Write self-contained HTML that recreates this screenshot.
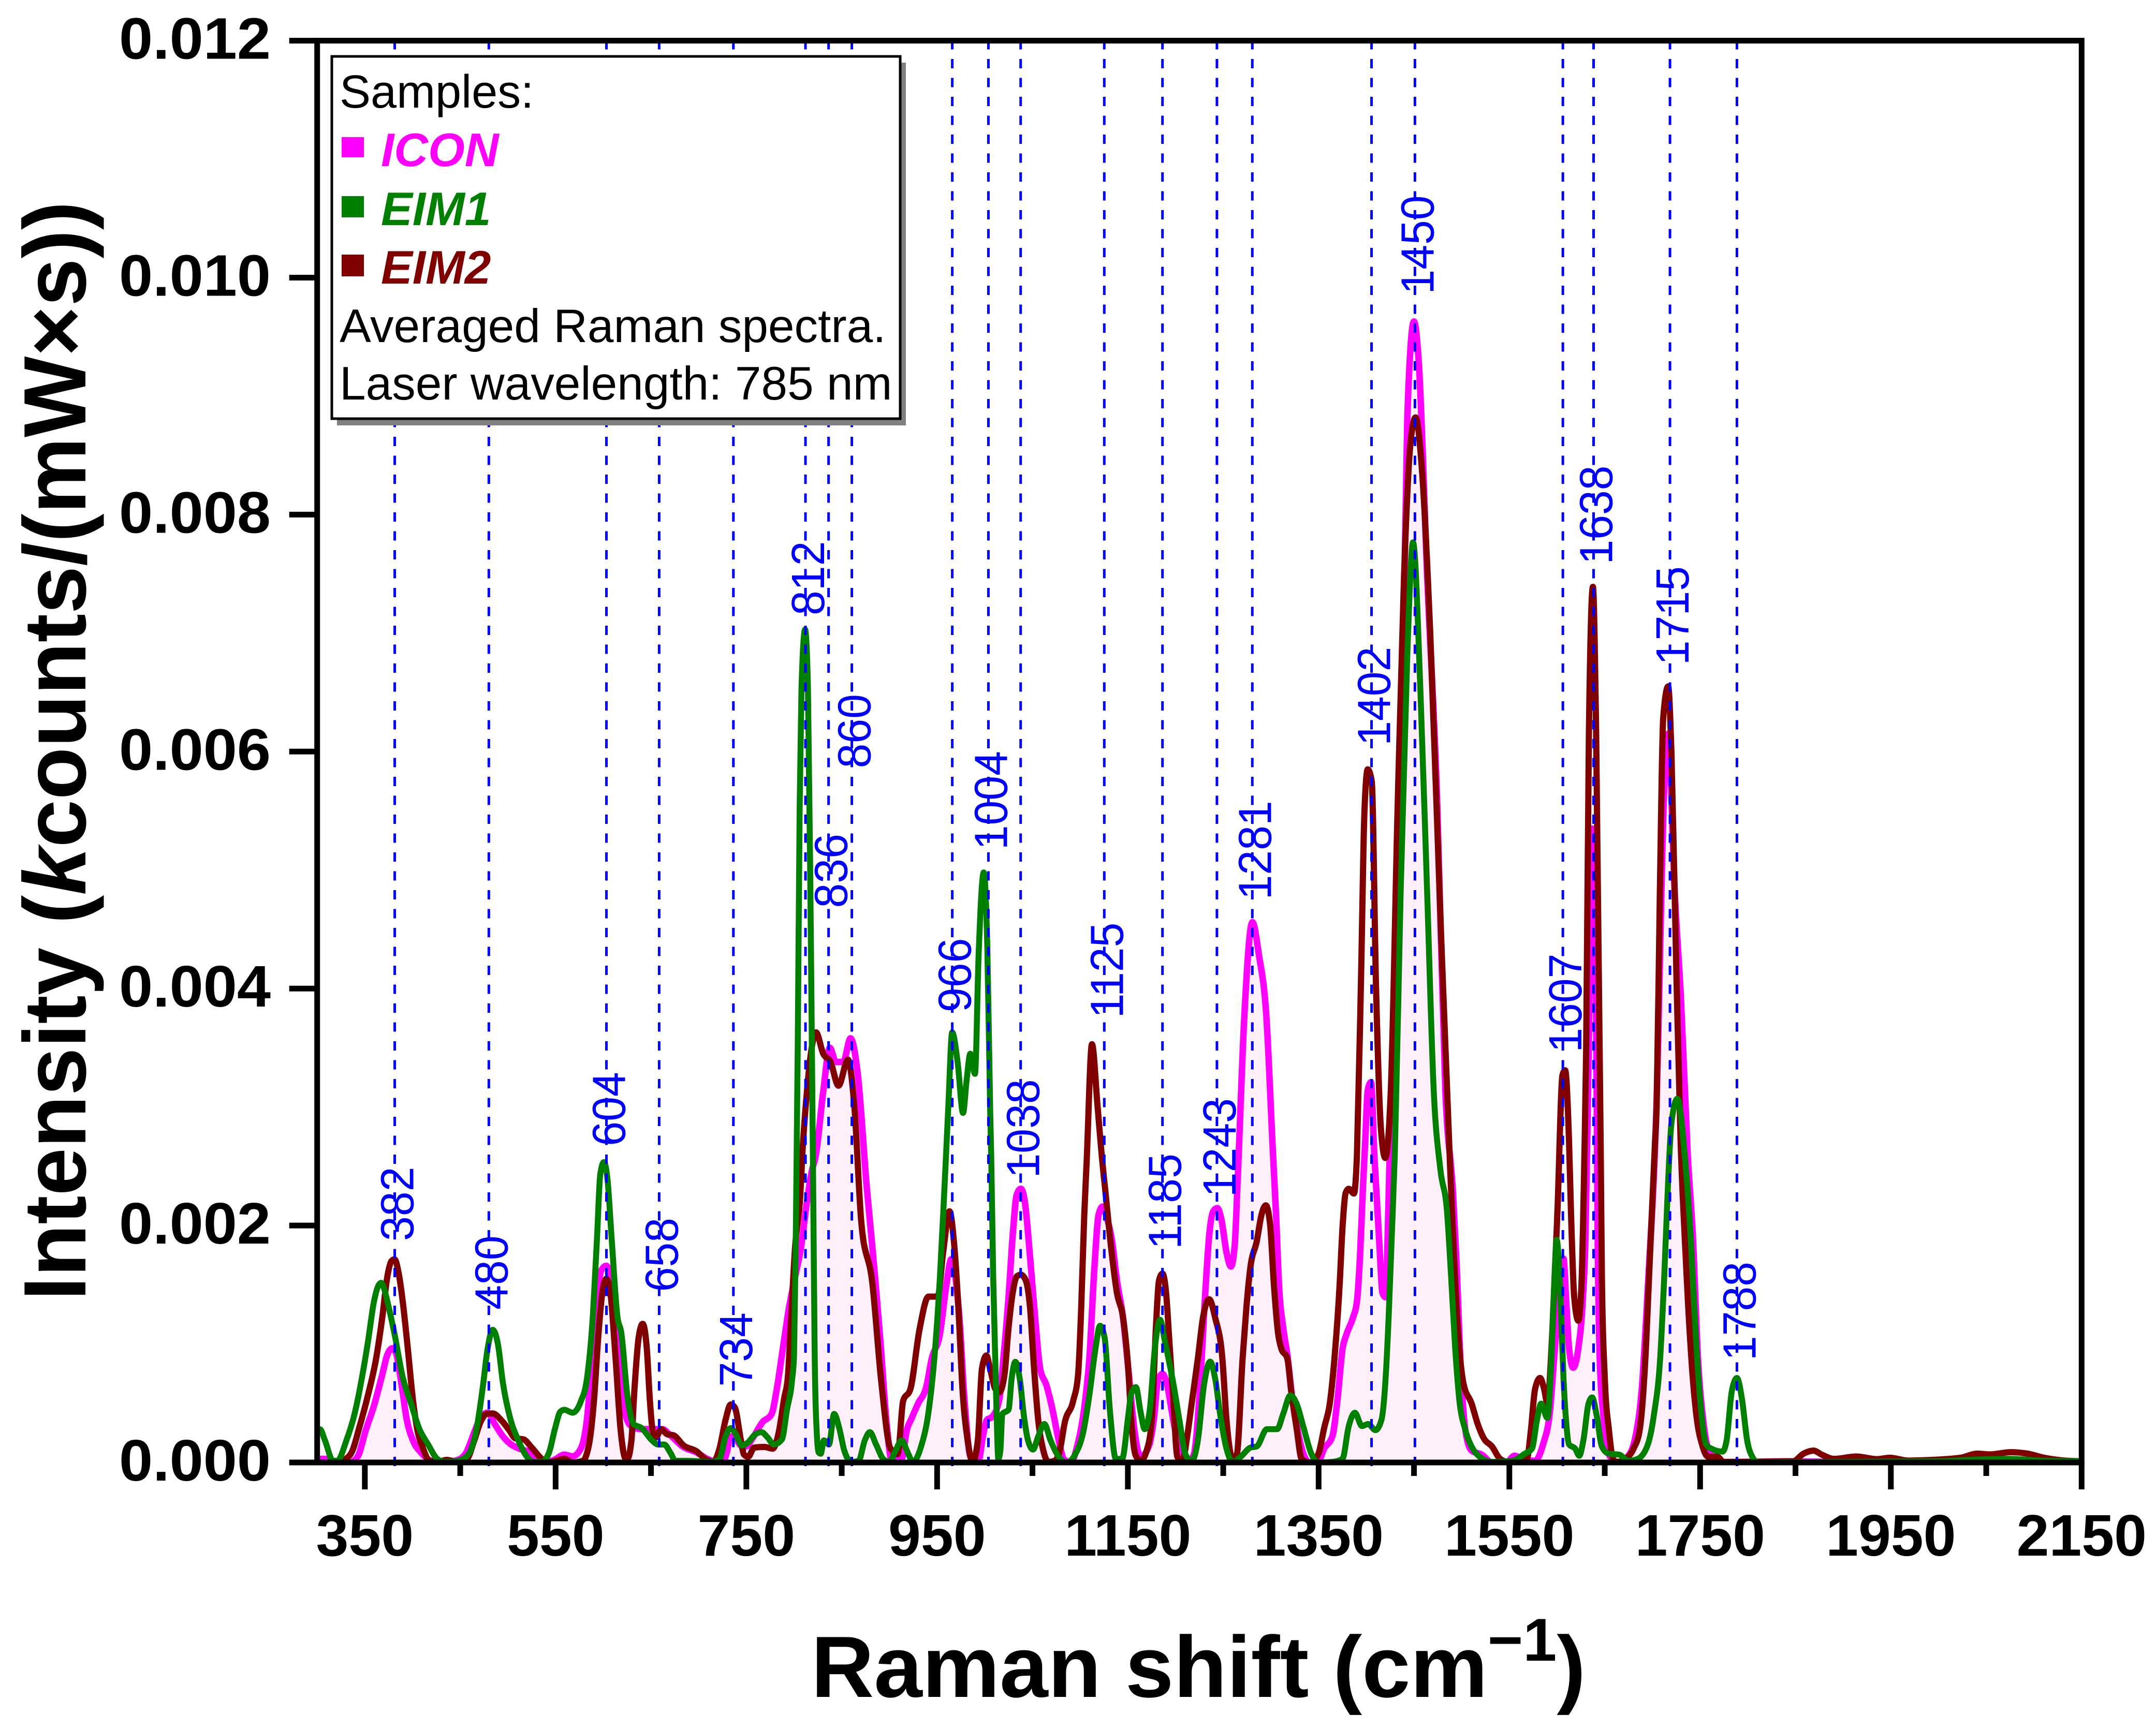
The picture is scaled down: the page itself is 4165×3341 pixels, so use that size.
<!DOCTYPE html>
<html lang="en">
<head>
<meta charset="utf-8">
<title>Averaged Raman spectra</title>
<style>
html,body{margin:0;padding:0;background:#fff;width:4165px;height:3341px;overflow:hidden}
svg{display:block}
text{font-family:"Liberation Sans",sans-serif}
</style>
</head>
<body>
<svg id="chart" xmlns="http://www.w3.org/2000/svg" width="4165" height="3341" viewBox="0 0 4165 3341">
  <defs><clipPath id="plot-clip"><rect x="612.7" y="78.6" width="3408.6" height="2747.4"/></clipPath></defs>
  <rect x="0" y="0" width="4165" height="3341" fill="#fff"/>
  <g id="series-layer" clip-path="url(#plot-clip)"></g>
  <g id="peak-layer"></g>
  <g id="axis-layer"></g>
  <text transform="translate(165,2513) rotate(-90) scale(.97,1)" font-size="171" font-weight="bold" fill="#000">Intensity (<tspan font-style="italic">k</tspan>counts/(mW×s))</text>
  <text x="1567" y="3279" font-size="168" font-weight="bold" fill="#000">Raman shift (cm<tspan font-size="117" dy="-70">−1</tspan><tspan dy="70">)</tspan></text>
  <g>
    <rect x="651" y="121" width="1099" height="701" fill="#808080"/>
    <rect x="641" y="109" width="1098" height="700" fill="#fff" stroke="#000" stroke-width="5"/>
    <text x="656" y="208" font-size="90" fill="#000">Samples:</text>
    <rect x="660" y="265" width="43" height="39" fill="#ff00ff"/>
    <text x="736" y="321" font-size="91" font-weight="bold" font-style="italic" fill="#ff00ff">ICON</text>
    <rect x="660" y="379" width="43" height="41" fill="#008000"/>
    <text x="736" y="435" font-size="91" font-weight="bold" font-style="italic" fill="#008000">EIM1</text>
    <rect x="660" y="492" width="43" height="42" fill="#800000"/>
    <text x="736" y="548" font-size="91" font-weight="bold" font-style="italic" fill="#800000">EIM2</text>
    <text x="656" y="661" font-size="91" fill="#000">Averaged Raman spectra.</text>
    <text x="656" y="772" font-size="91" fill="#000">Laser wavelength: 785 nm</text>
  </g>
</svg>
<script>
// Values. Each pair is [Raman shift in cm-1, intensity x 10^-3].
const iconSeries = [[300,.03],[311.3,.03],[314.6,0],[333.9,0],[342.5,.05],[351,.273],[359.6,.48],[368.2,.74],[373.6,.91],[379,.964],[383.2,.91],[388.6,.65],[394,.36],[400.4,.187],[409,.083],[419.7,.014],[430,0],[447.6,.022],[456.2,.083],[464.8,.256],[471.2,.376],[478.7,.42],[486.2,.325],[494.8,.22],[503.4,.152],[512,.117],[520.6,.092],[529.2,.03],[535.6,0],[548.5,.022],[559.2,.066],[567.8,.052],[576.4,.117],[582.8,.36],[588.2,.877],[592.5,1.31],[597.8,1.62],[603.2,1.66],[607.5,1.57],[612.9,1.22],[618.2,.705],[624.2,.376],[629.5,.307],[640.3,.281],[661.7,.281],[670.3,.23],[683.2,.135],[698.2,.083],[709,.03],[724,0],[730.4,.117],[732.5,.22],[737.9,.21],[744.3,.143],[749.7,.135],[756.1,.2],[766.9,.34],[776.5,.41],[781.9,.62],[788.3,.964],[794.8,1.31],[801.2,1.57],[807.6,1.83],[813,2.17],[818.4,2.45],[823,2.6],[830.6,3.13],[837.5,3.5],[844,3.38],[851.6,3.38],[859.2,3.58],[866.8,3.28],[876.3,2.32],[880.6,1.95],[884.9,1.57],[890.3,1.05],[897.8,.27],[902,.03],[912.8,.03],[918.2,.273],[923.5,.376],[930,.497],[938.6,.636],[944.4,.877],[953,1.085],[959.4,1.48],[964.8,1.715],[969.1,1.57],[973.4,1.22],[978.7,.53],[985.2,.05],[993.8,.03],[998,.22],[1002.3,.36],[1007.7,.385],[1015.2,.53],[1019.5,.877],[1024.9,1.395],[1029.2,1.91],[1033.5,2.26],[1037.8,2.31],[1042,2.2],[1047.4,1.74],[1052.8,1.22],[1058.1,.79],[1064.6,.653],[1071,.446],[1077.5,.187],[1082.8,.03],[1090.3,0],[1096.8,.135],[1104.3,.463],[1109.6,.877],[1115,1.654],[1119.3,2.09],[1123.6,2.16],[1127.9,2.07],[1133.2,1.88],[1138.6,1.534],[1145,1.22],[1151.5,.705],[1156.9,.273],[1163.3,.048],[1171.9,.135],[1177.2,.36],[1181.5,.687],[1186.3,.748],[1191.2,.653],[1197.6,.36],[1205.1,.083],[1212.7,0],[1219.1,.066],[1225.5,.618],[1230.9,1.395],[1235.2,1.91],[1239.5,2.12],[1243.8,2.147],[1248.1,2.05],[1253.4,1.775],[1258.1,1.654],[1262,1.83],[1265.2,2.4],[1272.2,3.78],[1280.6,4.56],[1287.5,4.28],[1295.1,3.78],[1302.2,2.6],[1305.4,2.09],[1308.6,1.48],[1312.9,1.136],[1317.2,.91],[1322.6,.53],[1328,.273],[1334.4,.066],[1340.8,0],[1349.4,.005],[1355.8,.117],[1364.4,.22],[1369.8,.53],[1375.2,.964],[1379.4,1.085],[1385.9,1.22],[1390.2,1.36],[1393.4,1.74],[1396.6,2.34],[1398.8,2.7],[1401.5,3.14],[1405,3.21],[1408.4,2.6],[1413.8,1.83],[1417,1.43],[1420.2,1.395],[1422.4,1.91],[1424.5,2.6],[1430,3.6],[1436,5.5],[1443,8.82],[1450,9.63],[1455,9.29],[1463.8,7.49],[1474.2,5.61],[1482.9,3.14],[1491,2.26],[1494.3,1.74],[1499.6,.705],[1503.9,.273],[1510.4,.1],[1521.1,.066],[1531.8,0],[1546.8,0],[1555.4,.057],[1564,.03],[1576.9,.014],[1585.6,.16],[1592.1,.4],[1598.6,1.05],[1606.8,1.72],[1609.4,1.395],[1612.6,.964],[1616.9,.8],[1622.3,.964],[1626.5,1.31],[1629.8,1.91],[1633,3.4],[1636.9,5.35],[1640.3,4.5],[1642.6,1.91],[1644.8,.877],[1649,.36],[1654.4,.066],[1663,0],[1673.8,.048],[1682.3,.22],[1688.8,.618],[1695.2,1.48],[1703.8,2.9],[1713,5.81],[1716.5,6.15],[1723.4,4.81],[1730,3.9],[1737,2.6],[1742.4,1.91],[1747.8,.877],[1753.2,.36],[1759.6,.1],[1766,.066],[1775,0],[1840,.01],[1900,.005],[2000,.01],[2060,.03],[2100,.02],[2150,.005]];
const eim1Series = [[300,.26],[303,.28],[308,.19],[316.7,.014],[321,.014],[330.7,.187],[339.2,.41],[346.7,.705],[353.2,1.015],[359.6,1.36],[363.5,1.48],[367.1,1.516],[370.5,1.46],[373.6,1.36],[381.1,1.085],[389.7,.72],[398.3,.5],[406.8,.29],[416.5,.15],[426,.03],[434.7,.005],[447.6,.014],[458.3,.066],[466.9,.273],[473.4,.62],[478.7,.96],[484.1,1.12],[489.5,1],[494.8,.67],[502.3,.376],[510.9,.187],[518.4,.066],[527,.005],[535.6,.005],[543.1,.083],[549.5,.29],[554.9,.428],[559.2,.445],[567.8,.42],[576.4,.515],[582.8,.705],[589.2,1.257],[593.5,1.91],[596.8,2.43],[600.6,2.535],[604.3,2.4],[608.6,1.91],[615,1.22],[618.8,1.1],[625.2,.566],[631.7,.325],[640.3,.29],[651,.187],[657.4,.152],[663.9,.152],[670.3,.083],[675.7,.014],[687.5,.014],[713.2,.005],[721.8,.03],[728.2,.22],[733.6,.29],[739,.238],[745.4,.143],[751.9,.17],[758.3,.23],[765.8,.256],[772.2,.212],[778.7,.152],[787.3,.195],[792.6,.446],[798,.7],[800,.9],[802,2.02],[803.9,3.53],[805.9,5.53],[807.8,6.53],[811.6,7.03],[814.6,6.53],[817.5,4.53],[820.2,2.2],[821.6,.95],[823.7,.27],[825.9,.083],[828,.074],[831.3,.187],[836.6,.152],[842,.41],[847.4,.29],[852.7,.1],[860.2,.005],[867.7,.014],[874.2,.187],[879.5,.256],[886,.152],[893.5,.03],[899.9,.005],[906.4,.1],[912.8,.187],[919.2,.083],[924.6,.005],[933.2,.135],[940.7,.41],[947.1,.877],[953,1.57],[957,2.2],[959.4,2.6],[961.9,3.03],[965.8,3.63],[971.5,3.38],[977.2,2.95],[981,3.23],[984.8,3.45],[989.7,3.28],[993.5,4.28],[998.9,4.98],[1002.7,4.33],[1005.7,2.95],[1006.7,2.6],[1008.8,1.57],[1012,.53],[1014.2,.03],[1016.3,.1],[1018.4,.41],[1024.9,.445],[1028.1,.705],[1032,.85],[1036.7,.705],[1041,.394],[1045.3,.187],[1050.6,.109],[1056,.22],[1062.4,.325],[1068.9,.187],[1077.5,.048],[1086,0],[1094.6,.066],[1103.2,.256],[1109.6,.566],[1116.1,.964],[1120.8,1.154],[1125.7,1.05],[1131.1,.446],[1137.5,.03],[1144,.03],[1150.4,.394],[1153.6,.584],[1158.4,.636],[1163.3,.428],[1167.6,.281],[1173,.446],[1178.3,.964],[1183.7,1.205],[1189,1.015],[1197.6,.67],[1204,.36],[1210.5,.066],[1217,.014],[1223.4,.187],[1229.8,.653],[1236.3,.851],[1241.6,.705],[1247,.394],[1253.4,.117],[1259.9,.005],[1268.5,.05],[1278.6,.126],[1285,.135],[1295.8,.281],[1306.5,.281],[1312.9,.411],[1320.4,.566],[1326.9,.497],[1334.4,.29],[1341.9,.083],[1349.4,0],[1364.4,.005],[1375,.03],[1381.6,.307],[1388,.42],[1395.5,.307],[1402,.325],[1409.5,.273],[1415.9,.36],[1420.2,.705],[1423.4,1.22],[1426.7,1.91],[1429.9,2.6],[1436,4.81],[1443,6.82],[1449,7.766],[1456.9,6.48],[1463.8,4.81],[1470.7,3.14],[1477.7,2.47],[1484.6,2.12],[1488.9,1.57],[1493.2,.964],[1497.5,.53],[1503.9,.273],[1510.4,.135],[1518.9,.048],[1531.8,.005],[1553.3,.014],[1566.1,.074],[1573.7,.117],[1579,.36],[1583.3,.497],[1589.8,.376],[1594,.877],[1597.3,1.57],[1599.6,1.88],[1604,1.31],[1606.8,.705],[1609.4,.36],[1612.6,.152],[1619,.117],[1623.3,.057],[1627.6,.187],[1633,.497],[1636.8,.549],[1641.6,.394],[1647,.135],[1654.4,.074],[1665.2,.066],[1674.8,.014],[1684.5,.03],[1695.2,.152],[1701.7,.41],[1708.1,.877],[1712.4,1.57],[1716.6,2.4],[1720,2.87],[1726.2,3.07],[1733.8,2.6],[1740.5,1.85],[1745.6,1.05],[1751,.446],[1756.4,.152],[1761.7,.117],[1773.5,.092],[1777.8,.187],[1783.2,.6],[1788.6,.713],[1794,.53],[1799.3,.187],[1804.7,.048],[1811,0],[1900,.005],[2000,.01],[2040,.025],[2075,.03],[2110,.015],[2150,.01]];
const eim2Series = [[325.3,.005],[336,.083],[344.6,.307],[353.2,.566],[361.8,.877],[368.2,1.22],[373.6,1.57],[377.9,1.7],[381.1,1.715],[385.4,1.6],[389.7,1.36],[395,.964],[400.4,.53],[404.7,.29],[411.1,.117],[417.6,.014],[426,.005],[435.8,.022],[449.8,0],[457.3,.03],[464.8,.187],[471.2,.34],[477.7,.41],[484.1,.414],[492.7,.36],[501.3,.273],[507.7,.204],[516.3,.195],[524.9,.126],[535.6,.03],[542,0],[559.2,.03],[567.8,0],[578.5,.014],[585,.152],[590.3,.53],[594.6,1.05],[598.9,1.43],[603.2,1.55],[607.5,1.43],[612.9,.877],[618.2,.273],[623.6,.03],[625.2,.03],[629.5,.187],[632.7,.62],[637,1.05],[641.3,1.17],[645.6,.964],[648.8,.53],[652,.256],[655.3,.212],[660.6,.281],[667.1,.238],[673.5,.23],[684.3,.143],[698.2,.092],[706.8,.03],[715.4,.005],[721.8,.117],[728.2,.36],[733.6,.489],[737.9,.463],[744.3,.187],[747.6,.066],[751.9,.048],[758.3,.126],[769,.131],[777.6,.117],[784,.256],[789.4,.53],[793.7,.74],[796.9,1.22],[801.2,1.83],[806.6,2.26],[808.7,2.6],[813.5,3.13],[817.3,3.43],[823,3.63],[830.6,3.45],[838.3,3.38],[846.6,3.18],[856.5,3.4],[863,3.03],[870.6,2.02],[882,1.52],[891.6,.67],[901,.12],[908.7,.07],[914.4,.52],[922,.62],[931.5,1.12],[941,1.4],[950.6,1.4],[956.3,1.77],[963,2.12],[968,1.83],[972.3,1.31],[976.6,.62],[982,.187],[987.3,.005],[992.7,.187],[997,.79],[1001.7,.903],[1005.6,.79],[1011,.62],[1015.2,.592],[1020.6,.74],[1024.9,1.136],[1029.2,1.43],[1033.5,1.57],[1037.8,1.585],[1043.1,1.534],[1047.4,1.31],[1051.7,.79],[1056,.36],[1061.4,.1],[1066.8,.005],[1073.2,.014],[1078.6,.1],[1083.9,.34],[1092.5,.515],[1097.8,.74],[1101.1,1.31],[1104.3,2.09],[1106.7,2.52],[1112.4,3.53],[1118,3.03],[1122.5,2.6],[1126.8,2.26],[1132.2,1.83],[1138.6,1.43],[1145,1.22],[1150.4,.79],[1153.6,.36],[1157.9,.066],[1163.3,.014],[1169.7,.1],[1175.1,.36],[1179.4,1.136],[1182.6,1.534],[1186.3,1.594],[1190.1,1.43],[1193.3,1.05],[1197.6,.53],[1201.9,.048],[1207.3,.005],[1211.6,.187],[1216.9,.497],[1223.4,.877],[1228.7,1.22],[1235.2,1.378],[1241.6,1.22],[1249.1,.877],[1253.4,.36],[1259.9,.03],[1264.2,.066],[1270.3,.877],[1274.3,1.31],[1278.6,1.654],[1285,1.862],[1290.4,2.1],[1294.7,2.17],[1299,2.02],[1303.3,1.48],[1307.6,1.085],[1310.8,.964],[1317.2,.877],[1321.5,.584],[1326.9,.29],[1332.2,.03],[1340.8,0],[1349.4,.066],[1355.8,.29],[1362.3,.532],[1366.6,.877],[1371.9,1.48],[1375.2,2],[1378.4,2.276],[1381.6,2.31],[1387,2.27],[1390.2,2.6],[1394.6,4.14],[1398,5.48],[1401.5,5.85],[1405.7,5.75],[1410.2,4.01],[1415.4,2.81],[1419.9,2.57],[1425.7,3.14],[1432.7,5.48],[1439.6,7.49],[1446.5,8.62],[1451.7,8.82],[1458.6,8.35],[1467.3,6.95],[1477.7,4.61],[1488,2.47],[1497.5,.964],[1501.8,.67],[1510.4,.497],[1516.8,.325],[1523.2,.204],[1531.8,.135],[1540.4,.03],[1549,.005],[1568.3,.03],[1572.6,.273],[1576.9,.618],[1582.2,.713],[1586.5,.618],[1589.8,.5],[1595,1.1],[1600.5,2.14],[1605.7,3.27],[1608.5,3.31],[1612.6,2.7],[1614.7,2.09],[1618,1.395],[1622.3,1.197],[1625.5,1.48],[1628.7,2.6],[1630.5,3.47],[1633.4,6.15],[1637.6,7.39],[1641,6.15],[1645.7,2.7],[1647,1.57],[1650.1,.705],[1654.4,.273],[1658.7,.03],[1663,.005],[1671.6,.03],[1680.2,.117],[1686.6,.273],[1692,.79],[1697.4,1.74],[1702.7,2.7],[1704.4,3],[1707.8,4.81],[1711.3,6.28],[1716.5,6.55],[1719.9,6],[1725.1,4.14],[1729.6,2.7],[1733.8,1.91],[1737,1.395],[1742.4,.705],[1746.7,.36],[1752,.152],[1758.5,.048],[1768.2,.048],[1774.6,.005],[1847.6,.01],[1858.3,.074],[1869,.1],[1877.6,.066],[1890.5,.03],[1913.6,.05],[1935.5,.028],[1948.7,.04],[1968.4,.016],[1988,.02],[2023.1,.04],[2040.6,.075],[2053.7,.068],[2075.6,.087],[2093,.075],[2110.7,.04],[2132.6,.016],[2150,.01]];
const peakLabels = ['382','480','604','658','734','812','836','860','966','1004','1038','1125','1185','1243','1281','1402','1450','1607','1638','1715','1788'];
const peakShifts = [381.3,480,603.3,658.6,736.4,812,836.2,860.6,965.9,1003.8,1037.6,1125.3,1186.3,1243.4,1280.5,1405.5,1451,1606.1,1638.3,1718.4,1788.6];
const peakLabelLevels = [1.87,1.29,2.67,1.44,.64,7.15,4.68,5.86,3.8,5.17,2.4,3.75,1.8,2.24,4.75,6.05,9.86,3.46,7.58,6.73,.86];
const xMajorTicks = [350,550,750,950,1150,1350,1550,1750,1950,2150];
const xMinorTicks = [450,650,850,1050,1250,1450,1650,1850,2050];
const yTicks = [0,2,4,6,8,10,12];
const yTickLabels = ['0.000','0.002','0.004','0.006','0.008','0.010','0.012'];

const SVGNS = 'http://www.w3.org/2000/svg';
const plot = {left:612.7, right:4021.3, top:78.6, bottom:2826, xMin:300, xMax:2150, yMin:0, yMax:12};
function xScale(v){ return plot.left + (v - plot.xMin) * (plot.right - plot.left) / (plot.xMax - plot.xMin); }
function yScale(v){ return plot.bottom - (v - plot.yMin) * (plot.bottom - plot.top) / (plot.yMax - plot.yMin); }
function make(tag, attrs, parent){
  const el = document.createElementNS(SVGNS, tag);
  for (const k in attrs) el.setAttribute(k, attrs[k]);
  parent.appendChild(el);
  return el;
}
function sign(a){ return a < 0 ? -1 : 1; }
function smoothSegments(series){
  const p = series.map(d => [xScale(d[0]), yScale(d[1])]);
  const n = p.length, h = [], s = [], m = new Array(n);
  for (let i = 0; i < n - 1; i++){
    h[i] = p[i+1][0] - p[i][0];
    s[i] = (p[i+1][1] - p[i][1]) / h[i];
  }
  m[0] = s[0];
  m[n-1] = s[n-2];
  for (let i = 1; i < n - 1; i++){
    const q = (s[i-1] * h[i] + s[i] * h[i-1]) / (h[i-1] + h[i]);
    m[i] = (sign(s[i-1]) + sign(s[i])) * Math.min(Math.abs(s[i-1]), Math.abs(s[i]), 0.5 * Math.abs(q)) || 0;
  }
  let d = '';
  for (let i = 0; i < n - 1; i++){
    const t = h[i] / 3;
    d += 'C' + (p[i][0] + t).toFixed(2) + ' ' + (p[i][1] + t * m[i]).toFixed(2) + ' ' +
         (p[i+1][0] - t).toFixed(2) + ' ' + (p[i+1][1] - t * m[i+1]).toFixed(2) + ' ' +
         p[i+1][0].toFixed(2) + ' ' + p[i+1][1].toFixed(2);
  }
  return {start: p[0], end: p[n-1], curve: d};
}

const seriesLayer = document.getElementById('series-layer');
const peakLayer = document.getElementById('peak-layer');
const axisLayer = document.getElementById('axis-layer');

// ICON filled area
const iconPath = smoothSegments(iconSeries);
const iconFill = make('path', {d: 'M' + iconPath.start[0] + ' ' + plot.bottom + 'L' + iconPath.start[0] + ' ' + iconPath.start[1] + iconPath.curve + 'L' + iconPath.end[0] + ' ' + plot.bottom + 'Z', fill: '#fff0fc', stroke: 'none'}, seriesLayer);



const iconLine = make('path', {d: 'M' + iconPath.start[0] + ' ' + iconPath.start[1] + iconPath.curve, fill: 'none', stroke: '#ff00ff', 'stroke-width': 12.5, 'stroke-linejoin': 'round'}, seriesLayer);



const eim2Path = smoothSegments(eim2Series);
const eim2Line = make('path', {d: 'M' + eim2Path.start[0] + ' ' + eim2Path.start[1] + eim2Path.curve, fill: 'none', stroke: '#800000', 'stroke-width': 12, 'stroke-linejoin': 'round'}, seriesLayer);



const eim1Path = smoothSegments(eim1Series);
const eim1Line = make('path', {d: 'M' + eim1Path.start[0] + ' ' + eim1Path.start[1] + eim1Path.curve, fill: 'none', stroke: '#008000', 'stroke-width': 11.5, 'stroke-linejoin': 'round'}, seriesLayer);



// Peak marker lines and rotated peak labels
peakShifts.forEach(function(shift, i){
  const x = xScale(shift);
  const line = make('line', {x1: x, x2: x, y1: plot.bottom + 7, y2: plot.top, stroke: '#0000ff', 'stroke-width': 5, 'stroke-dasharray': '18 18.5'}, peakLayer);
  
  
  const label = make('text', {transform: 'translate(' + (x + 36).toFixed(1) + ',' + yScale(peakLabelLevels[i]).toFixed(1) + ') rotate(-90) scale(.955,1)', 'font-size': 90, fill: '#0000ff'}, peakLayer);
  
  
  label.textContent = peakLabels[i];
});

// Frame
const frame = make('rect', {x: plot.left, y: plot.top, width: plot.right - plot.left, height: plot.bottom - plot.top, fill: 'none', stroke: '#000', 'stroke-width': 11}, axisLayer);



// X ticks
xMajorTicks.forEach(function(v){
  const x = xScale(v);
  const tick = make('line', {x1: x, x2: x, y1: plot.bottom, y2: plot.bottom + 52, stroke: '#000', 'stroke-width': 11}, axisLayer);
  
  
  const label = make('text', {x: x, y: 3006, 'font-size': 113, 'font-weight': 'bold', 'text-anchor': 'middle', fill: '#000'}, axisLayer);
  
  
  label.textContent = String(v);
});
xMinorTicks.forEach(function(v){
  const x = xScale(v);
  const tick = make('line', {x1: x, x2: x, y1: plot.bottom, y2: plot.bottom + 26, stroke: '#000', 'stroke-width': 11}, axisLayer);
  
  
});

// Y ticks
yTicks.forEach(function(v, i){
  const y = yScale(v);
  const tick = make('line', {x1: plot.left - 54, x2: plot.left, y1: y, y2: y, stroke: '#000', 'stroke-width': 11}, axisLayer);
  
  
  const label = make('text', {x: 523, y: y + 35, 'font-size': 113, 'font-weight': 'bold', 'text-anchor': 'end', textLength: 293, lengthAdjust: 'spacingAndGlyphs', fill: '#000'}, axisLayer);
  
  
  label.textContent = yTickLabels[i];
});
</script>
</body>
</html>
